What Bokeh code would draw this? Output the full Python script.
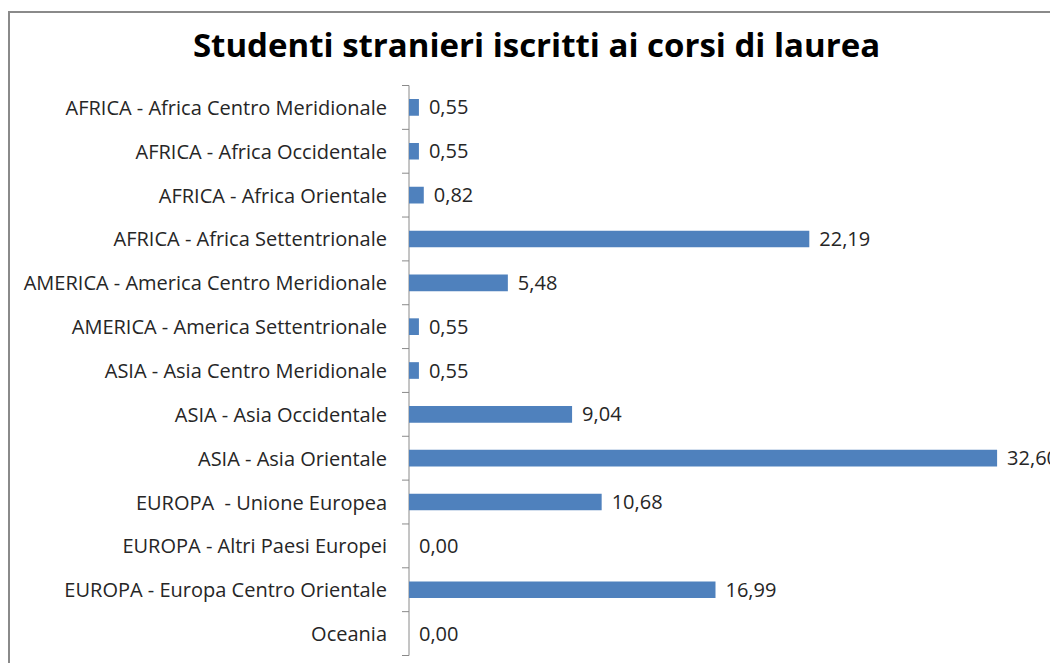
import math
from bokeh.plotting import figure
from bokeh.models import ColumnDataSource, Range1d, Label
from bokeh.core.properties import value
from bokeh.embed import file_html
from bokeh.resources import INLINE

categories = [
    "AFRICA - Africa Centro Meridionale",
    "AFRICA - Africa Occidentale",
    "AFRICA - Africa Orientale",
    "AFRICA - Africa Settentrionale",
    "AMERICA - America Centro Meridionale",
    "AMERICA - America Settentrionale",
    "ASIA - Asia Centro Meridionale",
    "ASIA - Asia Occidentale",
    "ASIA - Asia Orientale",
    "EUROPA\u00a0 - Unione Europea",
    "EUROPA - Altri Paesi Europei",
    "EUROPA - Europa Centro Orientale",
    "Oceania",
]
values = [0.55, 0.55, 0.82, 22.19, 5.48, 0.55, 0.55, 9.04, 32.60, 10.68, 0.00, 16.99, 0.00]
title_text = "Studenti stranieri iscritti ai corsi di laurea"

n = len(categories)
ypos = [n - 1 - i for i in range(n)]
labels = [f"{v:.2f}".replace(".", ",") for v in values]
src = ColumnDataSource(dict(y=ypos, v=values, lab=labels, cat=categories))
bounds = [i - 0.5 for i in range(n + 1)]

# layout (pixels)
W, H = 1042, 652
axis_px = 398.5          # axis position from figure left
px_per_unit = 18.04      # horizontal scale
axis_top, axis_bot = 72, 642   # category band extent from figure top
band = (axis_bot - axis_top) / n

x_start = -axis_px / px_per_unit
x_end = (W - axis_px) / px_per_unit
y_end = (n - 0.5) + axis_top / band
y_start = -0.5 - (H - axis_bot) / band

p = figure(width=W, height=H, output_backend="svg", toolbar_location=None,
           x_range=Range1d(x_start, x_end), y_range=Range1d(y_start, y_end),
           min_border=0)
p.styles = {"border-left": "2px solid #8a8a8a", "border-top": "2px solid #8a8a8a",
            "margin-top": "11px", "margin-left": "8px"}
p.outline_line_color = None
p.xaxis.visible = False
p.yaxis.visible = False
p.xgrid.visible = False
p.ygrid.visible = False

# title
p.add_layout(Label(x=526, y=H - 31, x_units="screen", y_units="screen",
                   text=title_text, text_align="center", text_baseline="middle",
                   text_font="Open Sans", text_font_style="bold", text_font_size="33px",
                   text_color="#000000"))

# category axis line and tick marks between categories
p.segment(x0=0, y0=bounds[0], x1=0, y1=bounds[-1], line_color="#8a8a8a", line_width=1)
p.ray(x=[0] * len(bounds), y=bounds, length=7, length_units="screen", angle=math.pi,
      line_color="#8a8a8a", line_width=1)

# category labels
p.text(x=0, y="y", text="cat", source=src, x_offset=-22,
       text_baseline="middle", text_align="right",
       text_font=value("Open Sans"), text_font_size="20px", text_color="#262626")

# bars
p.hbar(y="y", right="v", left=0, height=0.38, source=src,
       fill_color="#4f81bd", line_color=None)

# value labels
p.text(x="v", y="y", text="lab", source=src, x_offset=10,
       text_baseline="middle", text_align="left",
       text_font=value("Open Sans"), text_font_size="20px", text_color="#262626")

open("out.html", "w").write(file_html(p, INLINE))
